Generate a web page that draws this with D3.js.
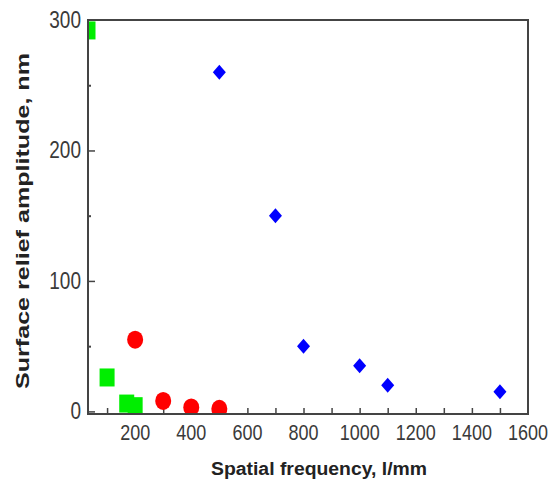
<!DOCTYPE html>
<html>
<head>
<meta charset="utf-8">
<script src="https://cdn.jsdelivr.net/npm/d3@7"></script>
<style>
  body { margin: 0; background: #fff; }
  svg text { font-family: "Liberation Sans", Arial, sans-serif; }
</style>
</head>
<body>
<div id="viz"></div>
<script>
// data
var diamondX = [500, 700, 800, 1000, 1100, 1500];
var diamondY = [260, 150, 50, 35, 20, 15];
var circleX = [200, 300, 400, 500];
var circleY = [55, 8, 3, 2];
var squareX = [32, 100, 170, 200];
var squareY = [292, 26, 6, 4];

var xTickLabels = [200, 400, 600, 800, 1000, 1200, 1400, 1600];
var yTickLabels = [0, 100, 200, 300];

var width = 553;
var height = 486;
// plot frame (note: "top" is a reserved window global, so use other names)
var frameL = 88, frameR = 528, frameT = 20, frameB = 414;

var svg = d3.select('#viz')
    .append('svg')
    .attr('width', width)
    .attr('height', height);

var x = d3.scaleLinear().domain([32, 1600]).range([frameL, frameR]);
var y = d3.scaleLinear().domain([-2, 300]).range([frameB, frameT]);

var frameColor = '#444';
var labelColor = '#3a3a3a';

// ticks (inward)
var xAxis = d3.axisTop(x)
    .tickValues(d3.range(100, 1600, 100))
    .tickSize(6)
    .tickFormat('');
svg.append('g')
    .attr('transform', 'translate(0,' + frameB + ')')
    .call(xAxis)
    .call(function (g) { g.select('.domain').remove(); })
    .selectAll('line').attr('stroke', frameColor).attr('stroke-width', 1.5);

svg.append('g')
    .attr('transform', 'translate(' + frameL + ',0)')
    .call(d3.axisRight(y).tickValues([0, 100, 200]).tickSize(7).tickFormat(''))
    .call(function (g) { g.select('.domain').remove(); })
    .selectAll('line').attr('stroke', frameColor).attr('stroke-width', 1.5);

svg.append('g')
    .attr('transform', 'translate(' + frameL + ',0)')
    .call(d3.axisRight(y).tickValues([50, 150, 250]).tickSize(3).tickFormat(''))
    .call(function (g) { g.select('.domain').remove(); })
    .selectAll('line').attr('stroke', frameColor).attr('stroke-width', 2);

// tick labels, slightly stretched vertically like the picture
svg.append('g').selectAll('text')
    .data(xTickLabels)
    .enter().append('text')
    .attr('transform', function (d) { return 'translate(' + x(d) + ',' + 440 + ') scale(1,1.22)'; })
    .attr('text-anchor', 'middle')
    .attr('font-size', 18)
    .attr('fill', labelColor)
    .text(function (d) { return d; });

svg.append('g').selectAll('text')
    .data(yTickLabels)
    .enter().append('text')
    .attr('transform', function (d) { return 'translate(' + 81 + ',' + (y(d) + 8) + ') scale(1,1.22)'; })
    .attr('text-anchor', 'end')
    .attr('font-size', 19)
    .attr('fill', labelColor)
    .text(function (d) { return d; });

// markers, clipped to the frame
svg.append('clipPath').attr('id', 'plotclip')
    .append('rect')
    .attr('x', frameL).attr('y', frameT)
    .attr('width', frameR - frameL).attr('height', frameB - frameT);

var plot = svg.append('g').attr('clip-path', 'url(#plotclip)');

var squares = squareX.map(function (d, i) { return { x: d, y: squareY[i] }; });
var circles = circleX.map(function (d, i) { return { x: d, y: circleY[i] }; });
var diamonds = diamondX.map(function (d, i) { return { x: d, y: diamondY[i] }; });

plot.selectAll('rect.sq')
    .data(squares)
    .enter().append('rect')
    .attr('class', 'sq')
    .attr('x', function (d) { return x(d.x) - 7.5; })
    .attr('y', function (d) { return y(d.y) - 9; })
    .attr('width', 15)
    .attr('height', 18)
    .attr('fill', '#00ee00');

plot.selectAll('ellipse')
    .data(circles)
    .enter().append('ellipse')
    .attr('cx', function (d) { return x(d.x); })
    .attr('cy', function (d) { return y(d.y); })
    .attr('rx', 8)
    .attr('ry', 9)
    .attr('fill', '#ff0000');

plot.selectAll('path.dm')
    .data(diamonds)
    .enter().append('path')
    .attr('class', 'dm')
    .attr('d', function (d) {
        var cx = x(d.x), cy = y(d.y);
        return 'M' + cx + ',' + (cy - 7.5) + 'L' + (cx + 6.5) + ',' + cy +
            'L' + cx + ',' + (cy + 7.5) + 'L' + (cx - 6.5) + ',' + cy + 'Z';
    })
    .attr('fill', '#0000ff');

// frame
svg.append('rect')
    .attr('x', frameL).attr('y', frameT)
    .attr('width', frameR - frameL).attr('height', frameB - frameT)
    .attr('fill', 'none')
    .attr('stroke', frameColor)
    .attr('stroke-width', 2);

// axis titles
svg.append('text')
    .attr('x', 319)
    .attr('y', 475)
    .attr('text-anchor', 'middle')
    .attr('font-size', 18)
    .attr('font-weight', 'bold')
    .attr('fill', '#222')
    .attr('textLength', 216)
    .attr('lengthAdjust', 'spacingAndGlyphs')
    .text('Spatial frequency, l/mm');

svg.append('text')
    .attr('transform', 'translate(29,221) rotate(-90)')
    .attr('text-anchor', 'middle')
    .attr('font-size', 19)
    .attr('font-weight', 'bold')
    .attr('fill', '#222')
    .attr('textLength', 336)
    .attr('lengthAdjust', 'spacingAndGlyphs')
    .text('Surface relief amplitude, nm');
</script>
</body>
</html>
